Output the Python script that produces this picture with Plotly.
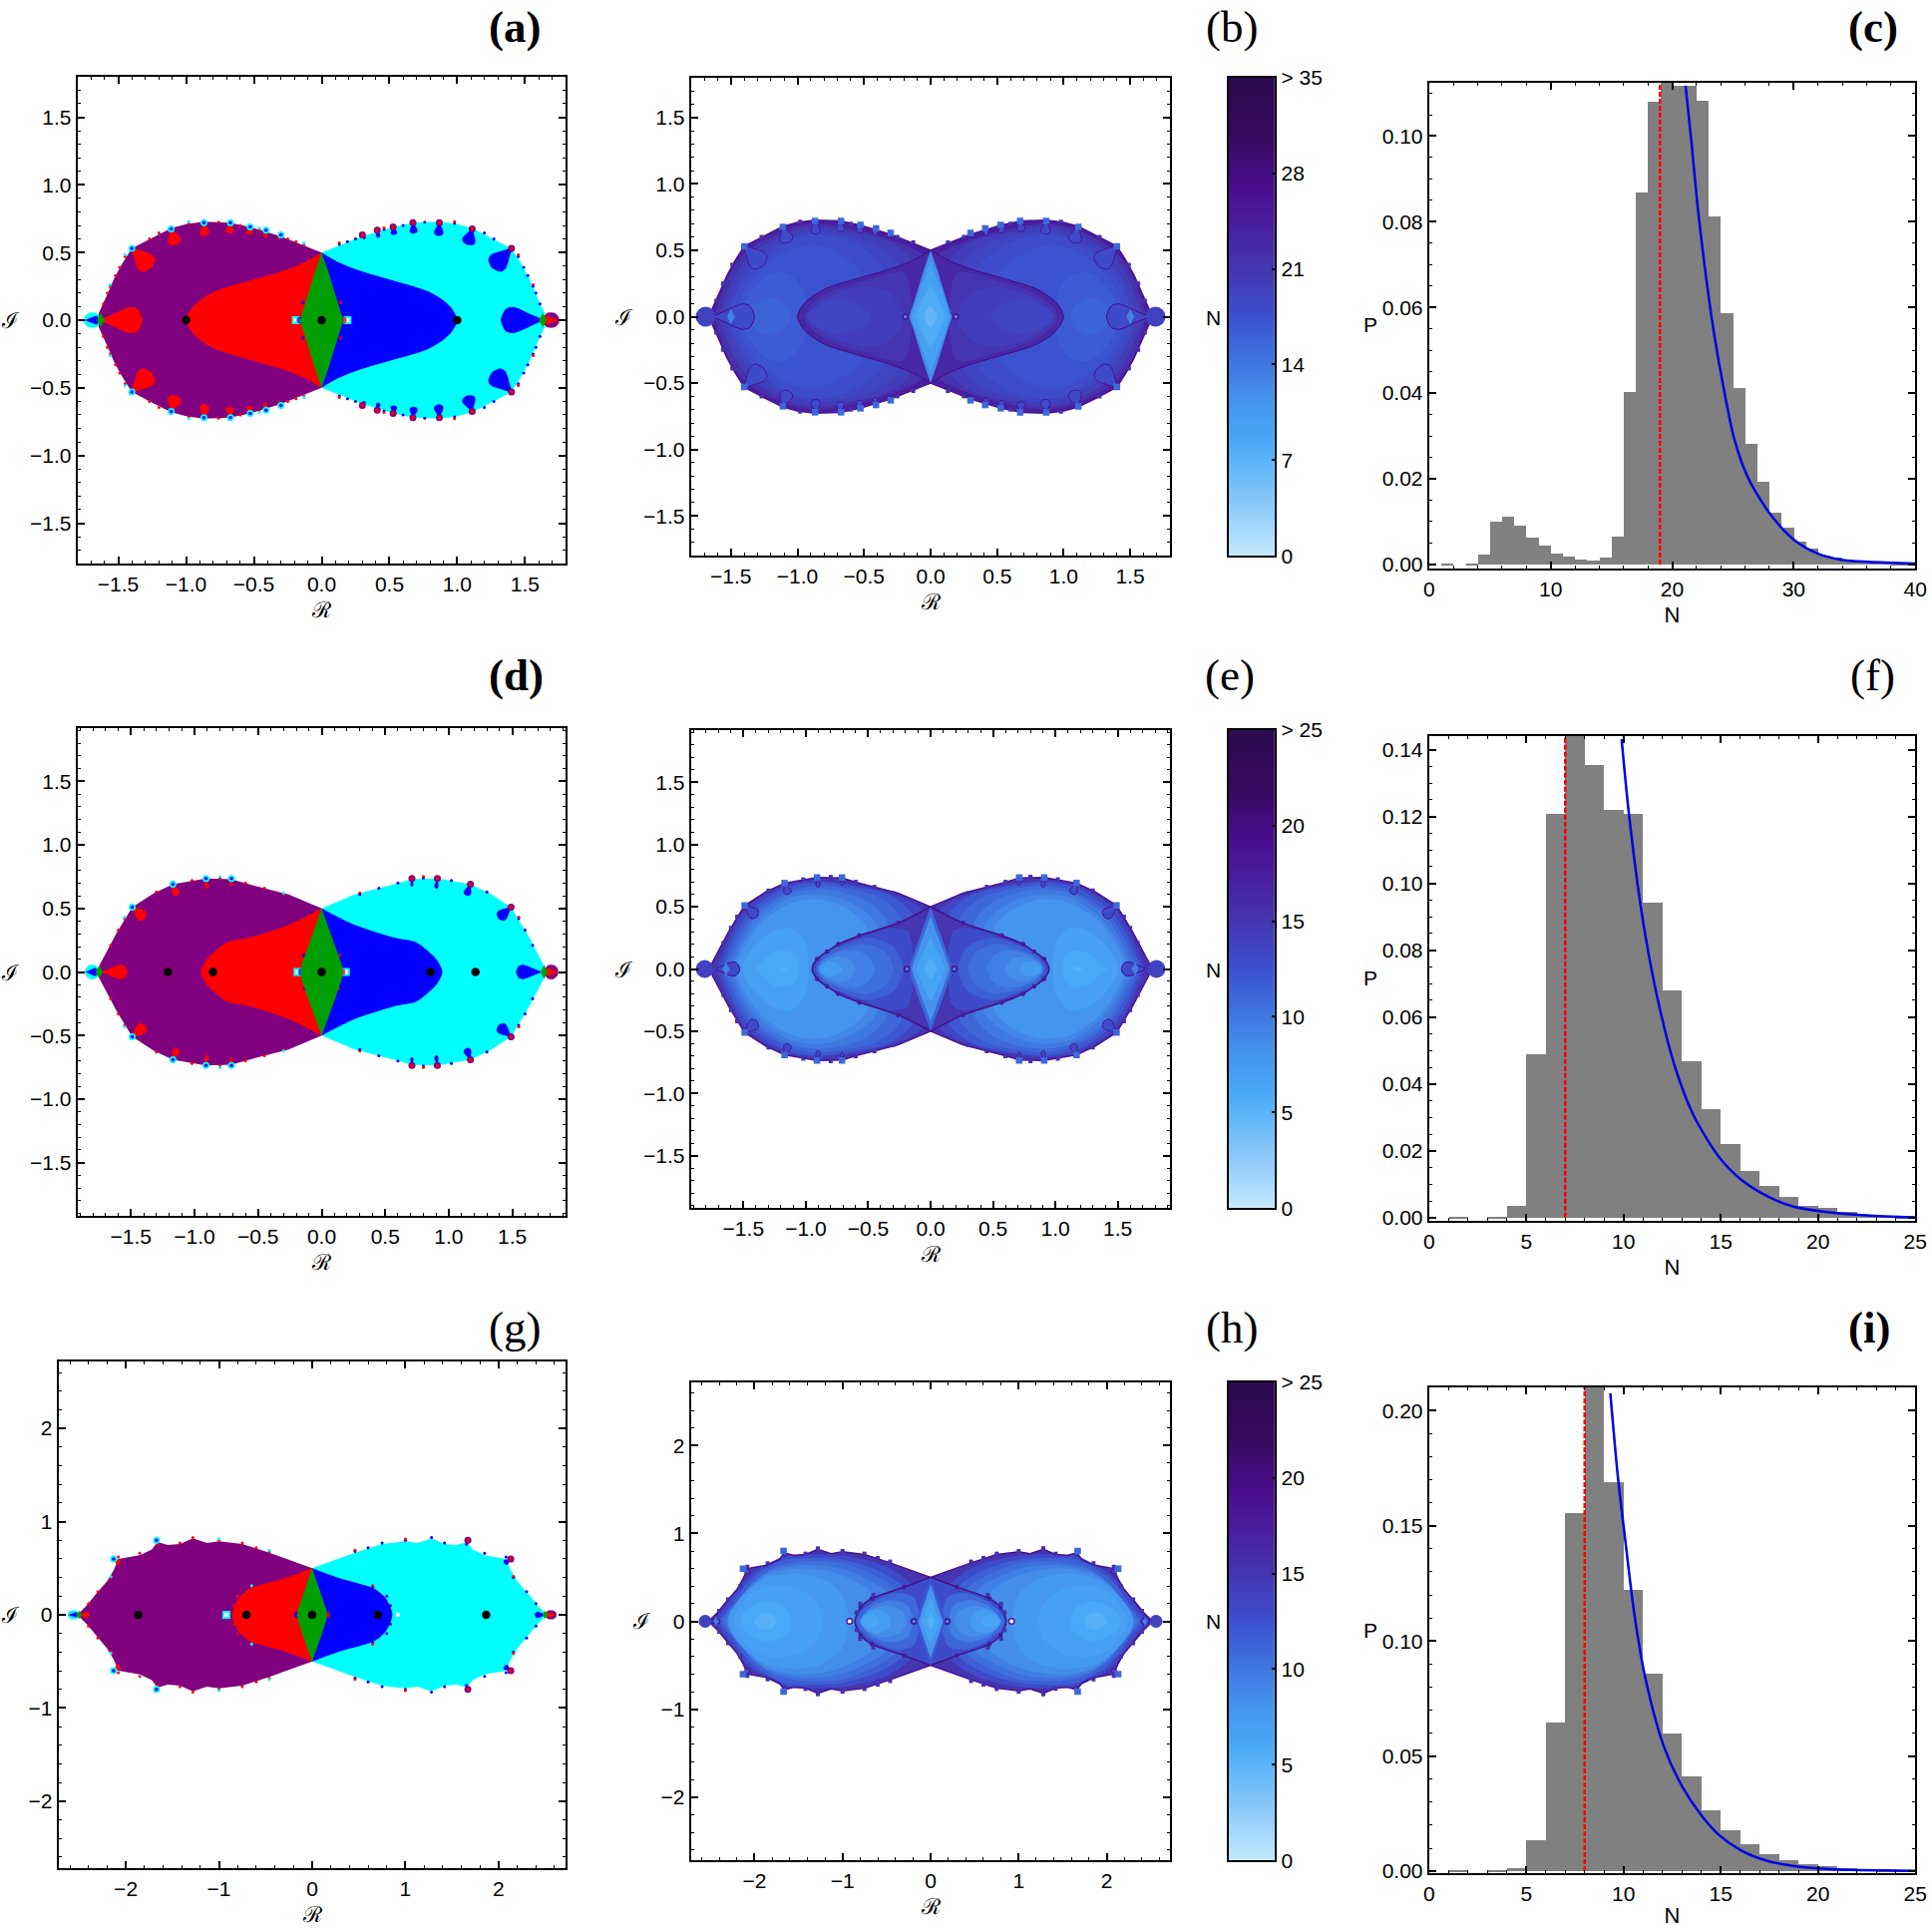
import plotly.graph_objects as go
from plotly.colors import sample_colorscale

W, H = 1937, 1933
COLORSCALE = [[0, "#C5E9FF"], [0.1, "#8FCBFA"], [0.24, "#47A9F7"], [0.32, "#4595EE"], [0.4, "#3F78E0"],
              [0.5, "#3B50D0"], [0.6, "#4535B0"], [0.77, "#4B0C8F"], [0.88, "#38095F"], [1, "#2A0A4E"]]
PURPLE, RED, BLUE, CYAN, GREEN = "#800080", "#FF0000", "#0000FF", "#00FFFF", "#009F00"

# --- basin panels (upper-right quadrant, mirrored for the others) ---
A_LOBE_X = [0, .1, .3, .53, .68, .87, 1.0, 1.11, 1.25, 1.40, 1.47, 1.53, 1.6, 1.645, 1.65]
A_LOBE_Y = [.5, .54, .62, .69, .72, .727, .71, .68, .61, .53, .42, .31, .15, .05, 0]
A_CORE_X = [0, .12, .3, .54, .78, .905, .965, 1.0]
A_CORE_Y = [.5, .43, .36, .29, .215, .14, .08, 0]
A_LENS_X = [0, .053, .126, .155, .16]
A_LENS_Y = [.5, .345, .105, .02, 0]
A_DOTS = [-1, 0, 1]
A_DROP_ROOT_X = [1.40, 1.11, .868, .673, .527, .41, .30, 1.62]
A_DROP_ROOT_Y = [.53, .675, .72, .72, .69, .665, .63, 0]
A_DROP_END_X = [1.257, 1.075, .861, .68, .535, .42, .32, 1.323]
A_DROP_END_Y = [.385, .556, .622, .64, .63, .61, .60, 0]
A_DROP_W = [.075, .05, .035, .03, .025, .016, .012, .095]
A_EDGE_X = [.13, .19, .25, .46, .6, .76, .98, 1.2, 1.27, 1.45, 1.49, 1.52, 1.56, 1.58, 1.61]
A_EDGE_Y = [.56, .58, .60, .67, .70, .725, .715, .645, .60, .47, .39, .33, .25, .2, .12]
A_TAIL_X = [1.63, 1.66, 1.72, 1.75, 1.75]
A_TAIL_Y = [0, .052, .052, .02, 0]

D_LOBE_X = [0, .26, .57, .71, .91, 1.17, 1.32, 1.49, 1.615, 1.75, 1.755]
D_LOBE_Y = [.5, .61, .69, .73, .735, .69, .62, .51, .305, .05, 0]
D_CORE_X = [0, .26, .57, .74, .83, .91, .95]
D_CORE_Y = [.5, .37, .27, .235, .17, .09, 0]
D_LENS_X = [0, .05, .11, .16, .165]
D_LENS_Y = [.5, .36, .2, .05, 0]
D_DOTS = [-1.21, -.855, 0, .855, 1.21]
D_DROP_ROOT_X = [1.49, 1.17, .91, .71, 1.72]
D_DROP_ROOT_Y = [.51, .69, .735, .735, 0]
D_DROP_END_X = [1.39, 1.138, .9, .71, 1.53]
D_DROP_END_Y = [.42, .60, .656, .67, 0]
D_DROP_W = [.045, .03, .016, .012, .055]
D_EDGE_X = [.3, .45, .6, .8, 1.02, 1.3, 1.55, 1.6, 1.66]
D_EDGE_Y = [.61, .66, .7, .74, .72, .63, .42, .33, .21]
D_TAIL_X = [1.75, 1.78, 1.83, 1.86, 1.86]
D_TAIL_Y = [0, .052, .052, .02, 0]

G_LOBE_X = [0, .46, .75, 1.0, 1.13, 1.28, 1.42, 1.55, 1.66, 1.72, 1.85, 2.08, 2.13, 2.2, 2.33, 2.42, 2.5, 2.5]
G_LOBE_Y = [.5, .665, .76, .79, .77, .82, .76, .75, .78, .7, .64, .6, .48, .36, .21, .1, .02, 0]
G_CORE_X = [0, .3, .668, .794, .86]
G_CORE_Y = [.5, .39, .28, .17, 0]
G_LENS_X = [0, .05, .1, .15, .16]
G_LENS_Y = [.5, .36, .22, .06, 0]
G_DOTS = [-1.866, -.705, 0, .705, 1.866]
G_DROP_ROOT_X = [2.13, 1.67, 2.5]
G_DROP_ROOT_Y = [.6, .8, 0]
G_DROP_END_X = [2.06, 1.65, 2.39]
G_DROP_END_Y = [.55, .74, 0]
G_DROP_W = [.03, .015, .03]
G_EDGE_X = [.46, .6, .75, 1.0, 1.28, 1.42, 1.66, 1.85, 2.08, 2.16, 2.3, 2.4, .65, .8, .84]
G_EDGE_Y = [.68, .72, .77, .8, .83, .77, .8, .66, .62, .4, .25, .12, .3, .2, .1]
G_TAIL_X = [2.5, 2.53, 2.59, 2.62, 2.62]
G_TAIL_Y = [0, .045, .045, .02, 0]

# --- iteration-count panels: (N, upper-half curve xs, ys), right lobe, mirrored to the left ---
B_NMAX = 35
B_OUTER = [
    (24, A_LOBE_X, A_LOBE_Y),
    (21.5, [.04, .06, .2, .5, .87, 1.1, 1.38, 1.52, 1.61, 1.63], [0, .46, .54, .64, .70, .65, .50, .30, .05, 0]),
    (20, [.1, .14, .32, .6, .87, 1.08, 1.36, 1.49, 1.58, 1.6], [0, .42, .57, .64, .68, .63, .47, .28, .05, 0]),
    (19, [.2, .24, .42, .66, .87, 1.06, 1.33, 1.46, 1.55, 1.58], [0, .4, .55, .62, .65, .6, .44, .25, .04, 0]),
    (18, [.3, .36, .52, .72, .9, 1.05, 1.3, 1.43, 1.52, 1.55], [0, .38, .52, .6, .62, .58, .41, .24, .04, 0]),
    (17.3, [.5, .52, .7, .88, 1.05, 1.28, 1.4, 1.47, 1.49], [0, .33, .48, .54, .51, .36, .2, .03, 0]),
    (16.5, [.93, .96, 1.06, 1.2, 1.34, 1.43, 1.46], [0, .2, .32, .33, .2, .06, 0]),
    (15.8, [1.05, 1.09, 1.2, 1.31, 1.38], [0, .09, .14, .1, 0]),
]
B_CORE = [
    (23, A_CORE_X, A_CORE_Y),
    (21, [.14, .2, .5, .75, .9, .95], [0, .33, .27, .19, .09, 0]),
    (19.8, [.2, .32, .55, .78, .92], [0, .19, .22, .14, 0]),
    (19, [.45, .55, .72, .87, .93], [0, .1, .13, .07, 0]),
]
B_LENS = [
    (12, A_LENS_X, A_LENS_Y),
    (9.5, [0, .045, .1, .135, .145], [.42, .3, .14, .03, 0]),
    (8, [0, .04, .085, .11], [.24, .17, .07, 0]),
    (6.5, [0, .03, .05], [.08, .05, 0]),
]
E_NMAX = 25
E_OUTER = [
    (15, D_LOBE_X, D_LOBE_Y),
    (13.5, [.04, .06, .2, .5, .915, 1.18, 1.47, 1.6, 1.7, 1.72], [0, .46, .56, .655, .71, .665, .49, .28, .05, 0]),
    (12, [.1, .14, .32, .6, .915, 1.17, 1.44, 1.57, 1.67, 1.69], [0, .43, .59, .66, .695, .65, .47, .28, .05, 0]),
    (11, [.2, .24, .42, .66, .915, 1.15, 1.42, 1.55, 1.65, 1.67], [0, .42, .58, .645, .67, .62, .45, .25, .04, 0]),
    (10, [.3, .36, .52, .72, .93, 1.14, 1.4, 1.52, 1.62, 1.65], [0, .4, .55, .62, .64, .6, .43, .24, .04, 0]),
    (9, [.4, .44, .62, .8, .93, 1.13, 1.37, 1.5, 1.59, 1.62], [0, .37, .52, .59, .6, .57, .4, .22, .03, 0]),
    (8, [.5, .52, .7, .9, 1.12, 1.35, 1.48, 1.56, 1.58], [0, .35, .5, .56, .53, .38, .2, .03, 0]),
    (6.9, [.98, 1.0, 1.11, 1.27, 1.42, 1.51], [0, .197, .33, .30, .17, 0]),
    (6, [1.05, 1.07, 1.14, 1.27, 1.365, 1.42], [0, .09, .145, .13, .04, 0]),
    (5.4, [1.14, 1.18, 1.22], [0, .02, 0]),
]
E_CORE_Y = [.5, .37, .27, .2, .14, .08, 0]
E_CORE = [
    (15, D_CORE_X, E_CORE_Y),
    (13, [.14, .18, .3, .6, .8, .9, .94], [0, .3, .33, .24, .16, .09, 0]),
    (11.5, [.22, .3, .5, .7, .85, .92], [0, .18, .25, .19, .12, 0]),
    (10.5, [.3, .36, .52, .7, .85, .91], [0, .13, .2, .16, .09, 0]),
    (9.5, [.45, .5, .6, .75, .87, .9], [0, .1, .15, .13, .06, 0]),
    (8.5, [.6, .65, .75, .85, .89], [0, .08, .1, .06, 0]),
    (7.5, [.71, .75, .82, .88, .89], [0, .05, .06, .03, 0]),
    (6.8, [.81, .85, .885], [0, .012, 0]),
]
E_LENS = [
    (11, D_LENS_X, D_LENS_Y),
    (8, [0, .045, .1, .14, .15], [.42, .3, .15, .04, 0]),
    (6.5, [0, .04, .09, .12], [.26, .18, .07, 0]),
    (5.5, [0, .03, .05], [.09, .05, 0]),
]
H_NMAX = 25
H_OUTER = [
    (15, G_LOBE_X, G_LOBE_Y),
    (13, [.1, .2, .5, .95, 1.3, 1.66, 2.0, 2.15, 2.32, 2.43], [0, .4, .62, .74, .76, .74, .56, .42, .18, 0]),
    (11.5, [.2, .3, .6, 1.0, 1.3, 1.66, 1.98, 2.12, 2.28, 2.39], [0, .38, .58, .7, .72, .7, .53, .39, .16, 0]),
    (10.5, [.3, .4, .7, 1.0, 1.4, 1.75, 2.0, 2.2, 2.35], [0, .36, .55, .66, .68, .62, .46, .22, 0]),
    (9.5, [.45, .5, .8, 1.1, 1.45, 1.8, 2.02, 2.2, 2.32], [0, .33, .52, .62, .64, .58, .43, .2, 0]),
    (8.5, [.6, .64, .9, 1.2, 1.55, 1.85, 2.05, 2.2, 2.3], [0, .3, .48, .58, .6, .53, .38, .2, 0]),
    (7.6, [.93, 1.0, 1.2, 1.5, 1.85, 2.1, 2.26, 2.3], [0, .3, .47, .54, .5, .33, .13, 0]),
    (6.9, [1.22, 1.3, 1.5, 1.8, 2.05, 2.2, 2.24], [0, .22, .37, .41, .31, .11, 0]),
    (6, [1.58, 1.64, 1.85, 2.08, 2.16], [0, .15, .23, .14, 0]),
    (5.2, [1.75, 1.8, 1.92, 2.0], [0, .08, .09, 0]),
]
H_CORE_X = [0, .3, .668, .794, .86]
H_CORE_Y = [.5, .39, .26, .16, 0]
H_CORE = [
    (13, H_CORE_X, H_CORE_Y),
    (11, [.12, .2, .4, .65, .78, .84], [0, .28, .32, .22, .12, 0]),
    (9.5, [.2, .26, .45, .68, .8], [0, .18, .24, .16, 0]),
    (8.5, [.27, .33, .5, .7, .79], [0, .12, .18, .12, 0]),
    (7.3, [.45, .5, .62, .75, .8], [0, .1, .14, .08, 0]),
    (6.2, [.58, .63, .71, .78], [0, .06, .07, 0]),
]
H_LENS = [
    (12, G_LENS_X, G_LENS_Y),
    (8, [0, .04, .09, .13, .14], [.42, .3, .15, .04, 0]),
    (6.5, [0, .035, .08, .11], [.28, .18, .07, 0]),
    (5.5, [0, .025, .05], [.1, .05, 0]),
]
H_NOTCH = .92
CB_TICKS_B = [0, 7, 14, 21, 28, 35]
CB_TEXT_B = ["0", "7", "14", "21", "28", "> 35"]
CB_TICKS_E = [0, 5, 10, 15, 20, 25]
CB_TEXT_E = ["0", "5", "10", "15", "20", "> 25"]

# --- histograms: bin values P for bins [k, k+1) ---
C_P = [0, .0002, 0, .0001, .00245, .0100, .0113, .0091, .0063, .0044, .0025, .0019, .0012, .0009, .0017, .0065,
       .0403, .0870, .1080, .1150, .1117, .1119, .1084, .0813, .0588, .0412, .0282, .0194, .0121, .0086, .0054,
       .0038, .0022, .0016, .0011, .0009, .0007, .0005, .0004, .0003]
C_FIT_X = [21.1, 21.6, 22.07, 22.7, 23.44, 24.2, 25.1, 26.2, 28, 30, 32, 33.9, 36.1, 40]
C_FIT_Y = [.1118, .0983, .0842, .069, .054, .0417, .0294, .0205, .012, .0058, .0025, .0011, .0006, .0002]
C_MEAN = 19
F_P = [0, .0003, 0, .0003, .0037, .0490, .1209, .1460, .1354, .1221, .1209, .0943, .068, .047, .0325, .0221, .0141,
       .0097, .0062, .0037, .0029, .0019, .001, .0007, .0005]
F_FIT_X = [9.9, 10.27, 10.94, 11.7, 12.65, 13.6, 14.94, 16.08, 17.4, 18.7, 20.6, 22.5, 25]
F_FIT_Y = [.1431, .1211, .0909, .0668, .045, .0306, .0179, .0112, .0064, .0034, .0016, .0007, .0001]
F_MEAN = 7
I_P = [0, .0003, 0, .0002, .0016, .0137, .0648, .1556, .2150, .1689, .1224, .0859, .0601, .0411, .0266, .0179, .012,
       .0076, .005, .0031, .0021, .0016, .001, .0007, .0003]
I_FIT_X = [9.32, 9.7, 10.08, 10.56, 11.13, 12.08, 13.03, 13.98, 14.9, 16.08, 17.4, 18.7, 20.6, 25]
I_FIT_Y = [.2076, .172, .1443, .1113, .0835, .054, .0366, .0245, .0158, .0089, .0045, .0023, .0009, .0002]
I_MEAN = 8

# --- helpers ---
fig = go.Figure()
layout = {}
axn = [0]
SANS = "Liberation Sans, Arial, sans-serif"
SERIF = "DejaVu Serif, serif"
TICKFONT = dict(family=SANS, size=21, color="black")
FRAME = 2.2
INSET = 1.8


def new_axes(l, r, t, b, xr, yr, xd, xm, yd, ym, xtitle=None, yfmt=None, xfmt=None, standoff=8, title_family=SERIF):
    axn[0] += 1
    n = axn[0]
    common = dict(showline=True, linecolor="black", linewidth=FRAME, mirror="ticks", ticks="inside", ticklen=7,
                  tickwidth=1.8, tickcolor="black", showgrid=False, zeroline=False, tickfont=TICKFONT, automargin=False)
    xa = dict(common, domain=[(l + INSET) / W, (r - INSET) / W], range=xr, dtick=xd, tick0=0, anchor=f"y{n}", tickformat=xfmt,
              minor=dict(dtick=xm, tick0=0, ticks="inside", ticklen=3.5, tickwidth=1.3, tickcolor="black",
                         showgrid=False))
    ya = dict(common, domain=[1 - (b - INSET) / H, 1 - (t + INSET) / H], range=yr, dtick=yd, tick0=0, anchor=f"x{n}",
              tickformat=yfmt,
              minor=dict(dtick=ym, tick0=0, ticks="inside", ticklen=3.5, tickwidth=1.3, tickcolor="black",
                         showgrid=False))
    if xtitle:
        xa["title"] = dict(text=xtitle, standoff=standoff, font=dict(family=title_family, size=22, color="black"))
    layout[f"xaxis{n}"] = xa
    layout[f"yaxis{n}"] = ya
    return f"x{n}", f"y{n}"


def closed(xs, ys, sx=1):
    """upper-half curve to a closed shape through its mirror image below the axis"""
    xs, ys = list(xs), list(ys)
    px = [sx * v for v in xs + xs[-2::-1]]
    py = ys + [-v for v in ys[-2::-1]]
    return px, py


def poly(ax, xs, ys, color, spline=False, line=None, lw=0):
    fig.add_trace(go.Scatter(x=xs, y=ys, xaxis=ax[0], yaxis=ax[1], mode="lines", fill="toself", fillcolor=color,
                             line=dict(width=lw, color=line or color, shape="spline" if spline else "linear",
                                       smoothing=0.8),
                             showlegend=False, hoverinfo="skip"))


def dots(ax, xs, ys, color, size, symbol="circle"):
    fig.add_trace(go.Scatter(x=xs, y=ys, xaxis=ax[0], yaxis=ax[1], mode="markers",
                             marker=dict(color=color, size=size, symbol=symbol, line=dict(width=0)),
                             showlegend=False, hoverinfo="skip"))


DROP_S = [0, .25, .5, .7, .88, 1, .88, .7, .5, .25, 0]
DROP_W = [.1, .42, .8, 1, .85, 0, -.85, -1, -.8, -.42, -.1]


def drop(x0, y0, x1, y1, w):
    dx, dy = x1 - x0, y1 - y0
    ln = (dx * dx + dy * dy) ** .5
    nx, ny = -dy / ln, dx / ln
    return ([x0 + s * dx + t * w * nx for s, t in zip(DROP_S, DROP_W)],
            [y0 + s * dy + t * w * ny for s, t in zip(DROP_S, DROP_W)])


def quad_pts(xs, ys, sx):
    return [sx * v for v in xs] + [sx * v for v in xs], list(ys) + [-v for v in ys]


def basin(ax, lobe, core, lens, dotx, roots, ends, widths, edge, tail, near):
    for sx, outer, inner, edge_c, tip in ((-1, PURPLE, RED, RED, CYAN), (1, CYAN, BLUE, BLUE, PURPLE)):
        poly(ax, *closed(*lobe, sx), outer)
        poly(ax, *closed(*core, sx), inner, spline=True)
        for x0, y0, x1, y1, w in zip(roots[0], roots[1], ends[0], ends[1], widths):
            px, py = drop(x0, y0, x1, y1, w)
            poly(ax, [sx * v for v in px], py, inner, spline=True)
            poly(ax, [sx * v for v in px], [-v for v in py], inner, spline=True)
        ex, ey = quad_pts(*edge, sx)
        dots(ax, ex, ey, edge_c, 3)
        dots(ax, *quad_pts(edge[0][::3], [v + .012 for v in edge[1][::3]], sx), RED if sx == 1 else CYAN, 3)
        rx, ry = quad_pts(roots[0][:-1], roots[1][:-1], sx)
        dots(ax, rx, ry, tip, 7)
        dots(ax, rx, ry, RED if sx == 1 else BLUE, 3.5)
        # tail beyond the lobe tip
        poly(ax, *closed(*tail, sx), tip, spline=True)
        tx, ty = tail
        poly(ax, *closed([tx[0], tx[1], tx[3]], [0, ty[1] * .65, 0], sx), RED if sx == 1 else BLUE)
        poly(ax, *closed([tx[0] - .03, tx[0], tx[0] + .03], [0, ty[1], 0], sx), GREEN)
        # features next to the central lens
        dots(ax, [sx * v for v in near[0]], near[1], CYAN, 8, "square")
        dots(ax, [sx * v for v in near[0]], near[1], "white", 4, "square")
        dots(ax, [sx * v for v in near[2]], near[3], RED if sx == 1 else BLUE, [7] + [4] * (len(near[2]) - 1))
    poly(ax, *closed(*lens, 1), GREEN)
    poly(ax, *closed(*lens, -1), GREEN)
    dots(ax, dotx, [0] * len(dotx), "black", 8.5)


def heat_panel(ax, nmax, outer, core, lens, lobe, corefront, roots, ends, widths, bumps, tail_x, tail_r, core_bumps,
               notch=None):
    def col(n):
        return sample_colorscale(COLORSCALE, [n / nmax])[0]
    for sx in (-1, 1):
        for n, xs, ys in outer:
            poly(ax, *closed(xs, ys, sx), col(n), spline=xs is not lobe[0])
        for n, xs, ys in core:
            poly(ax, *closed(xs, ys, sx), col(n), spline=True)
        # separatrix around the inner basin
        cx, cy = closed(*corefront, sx)
        fig.add_trace(go.Scatter(x=cx, y=cy, xaxis=ax[0], yaxis=ax[1], mode="lines",
                                 line=dict(color=col(nmax * .8), width=1.3 if core_bumps else 1, shape="spline", smoothing=.8),
                                 showlegend=False, hoverinfo="skip"))
        if core_bumps:
            bcx, bcy = quad_pts(corefront[0][1:-1], corefront[1][1:-1], sx)
            dots(ax, bcx, bcy, col(nmax * .72), 4.5)
        lx, ly = closed(*lobe, sx)
        fig.add_trace(go.Scatter(x=lx, y=ly, xaxis=ax[0], yaxis=ax[1], mode="lines",
                                 line=dict(color=col(nmax * .75), width=1.5), showlegend=False, hoverinfo="skip"))
        for x0, y0, x1, y1, w in zip(roots[0], roots[1], ends[0], ends[1], widths):
            px, py = drop(x0, y0, x1, y1, w)
            for sy in (1, -1):
                poly(ax, [sx * v for v in px], [sy * v for v in py], col(nmax * .52), spline=True,
                     line=col(nmax * .75), lw=1)
        bx, by = quad_pts(*bumps, sx)
        dots(ax, bx, by, col(nmax * .62), 4, "square")
        rx, ry = quad_pts(roots[0][:-1], roots[1][:-1], sx)
        dots(ax, rx, ry, col(nmax * .44), 6.5, "square")
        dots(ax, [sx * tail_x], [0], col(nmax * .55), tail_r)
        dots(ax, [sx * (tail_x - tail_r * .0095)], [0], col(nmax * .3), [tail_r * .55], "diamond-tall")
        dots(ax, [sx * .19], [0], col(nmax * .72), 7)
        dots(ax, [sx * .19], [0], col(nmax * .3), 3)
        if notch:
            dots(ax, [sx * notch], [0], col(nmax * .7), 7)
            dots(ax, [sx * notch], [0], "white", 4)
    for n, xs, ys in lens:
        poly(ax, *closed(xs, ys, 1), col(n))
        poly(ax, *closed(xs, ys, -1), col(n))


def colorbar(t, b, nmax, ticks, text):
    axn[0] += 1
    n = axn[0]
    layout[f"xaxis{n}"] = dict(domain=[(1230 + INSET) / W, (1280 - INSET) / W], range=[0, 1], anchor=f"y{n}",
                               showticklabels=False, ticks="", showgrid=False, zeroline=False, showline=True, mirror=True,
                               linecolor="black", linewidth=FRAME, automargin=False)
    layout[f"yaxis{n}"] = dict(domain=[1 - (b - INSET) / H, 1 - (t + INSET) / H], range=[0, nmax], anchor=f"x{n}", side="right",
                               ticks="inside", ticklen=3, tickwidth=1.5, tickcolor="black", tickvals=ticks, ticktext=text,
                               showgrid=False, zeroline=False, showline=True, mirror=True, linecolor="black",
                               linewidth=FRAME, tickfont=TICKFONT, automargin=False)
    fig.add_trace(go.Heatmap(z=[[0, 0], [nmax, nmax]], x=[0, 1], y=[0, nmax], xaxis=f"x{n}", yaxis=f"y{n}",
                             colorscale=COLORSCALE, zmin=0, zmax=nmax, zsmooth="best", showscale=False,
                             hoverinfo="skip"))


def hist(ax, p, fitx, fity, mean, ytop):
    fig.add_trace(go.Bar(x=[k + .5 for k in range(len(p))], y=p, width=1, xaxis=ax[0], yaxis=ax[1],
                         marker=dict(color="#808080", line=dict(width=0)), showlegend=False, hoverinfo="skip"))
    fig.add_trace(go.Scatter(x=fitx, y=fity, xaxis=ax[0], yaxis=ax[1], mode="lines",
                             line=dict(color="#0000E6", width=2.5, shape="spline", smoothing=.8), showlegend=False,
                             hoverinfo="skip"))
    fig.add_trace(go.Scatter(x=[mean, mean], y=[0, ytop], xaxis=ax[0], yaxis=ax[1], mode="lines",
                             line=dict(color="#FF0000", width=2.5, dash="5px,2px"), showlegend=False, hoverinfo="skip"))


notes = []


def note(x, y, s, size=21, family=SANS, bold=False):
    notes.append(dict(x=x / W, y=1 - y / H, xref="paper", yref="paper", text=f"<b>{s}</b>" if bold else s, showarrow=False,
                      xanchor="center", yanchor="middle", font=dict(family=family, size=size, color="black")))


SCRIPT_R, SCRIPT_I = "\u211b", "\u2110"

# (a)
ax = new_axes(76, 569, 75, 567, [-1.8, 1.8], [-1.8, 1.8], .5, .1, .5, .1, SCRIPT_R, ".1f", ".1f")
basin(ax, (A_LOBE_X, A_LOBE_Y), (A_CORE_X, A_CORE_Y), (A_LENS_X, A_LENS_Y), A_DOTS,
      (A_DROP_ROOT_X, A_DROP_ROOT_Y), (A_DROP_END_X, A_DROP_END_Y), A_DROP_W, (A_EDGE_X, A_EDGE_Y),
      (A_TAIL_X, A_TAIL_Y), ([.19], [0], [.16, .14, .14], [0, .13, -.13]))
note(10, 321, SCRIPT_I, size=22, family=SERIF)
# (b)
ax = new_axes(691, 1175, 76, 559, [-1.8, 1.8], [-1.8, 1.8], .5, .1, .5, .1, SCRIPT_R, ".1f", ".1f")
heat_panel(ax, B_NMAX, B_OUTER, B_CORE, B_LENS, (A_LOBE_X, A_LOBE_Y), (A_CORE_X, A_CORE_Y),
           (A_DROP_ROOT_X, A_DROP_ROOT_Y), (A_DROP_END_X, A_DROP_END_Y), A_DROP_W, (A_EDGE_X[::2], A_EDGE_Y[::2]), 1.69, 20,
           False)
colorbar(76, 559, B_NMAX, CB_TICKS_B, CB_TEXT_B)
note(625, 318, SCRIPT_I, size=22, family=SERIF)
note(1216, 318, "N")
# (c)
ax = new_axes(1431, 1922, 81, 572, [0, 40], [-.001, .1125], 10, 2, .02, .005, "N", ".2f", "d", title_family=SANS)
hist(ax, C_P, C_FIT_X, C_FIT_Y, C_MEAN, .1125)
note(1374, 325, "P")
# (d)
ax = new_axes(76, 569, 728, 1221, [-1.92, 1.92], [-1.92, 1.92], .5, .1, .5, .1, SCRIPT_R, ".1f", ".1f")
basin(ax, (D_LOBE_X, D_LOBE_Y), (D_CORE_X, D_CORE_Y), (D_LENS_X, D_LENS_Y), D_DOTS,
      (D_DROP_ROOT_X, D_DROP_ROOT_Y), (D_DROP_END_X, D_DROP_END_Y), D_DROP_W, (D_EDGE_X, D_EDGE_Y),
      (D_TAIL_X, D_TAIL_Y), ([.19], [0], [.16, .14, .13], [0, .13, -.13]))
note(10, 975, SCRIPT_I, size=22, family=SERIF)
# (e)
ax = new_axes(691, 1175, 730, 1213, [-1.92, 1.92], [-1.92, 1.92], .5, .1, .5, .1, SCRIPT_R, ".1f", ".1f")
heat_panel(ax, E_NMAX, E_OUTER, E_CORE, E_LENS, (D_LOBE_X, D_LOBE_Y), (D_CORE_X, E_CORE_Y),
           (D_DROP_ROOT_X, D_DROP_ROOT_Y), (D_DROP_END_X, D_DROP_END_Y), D_DROP_W, (D_EDGE_X, D_EDGE_Y), 1.81, 18, True)
colorbar(730, 1213, E_NMAX, CB_TICKS_E, CB_TEXT_E)
note(625, 972, SCRIPT_I, size=22, family=SERIF)
note(1216, 972, "N")
# (f)
ax = new_axes(1431, 1922, 736, 1226, [0, 25], [-.001, .1441], 5, 1, .02, .005, "N", ".2f", "d", title_family=SANS)
hist(ax, F_P, F_FIT_X, F_FIT_Y, F_MEAN, .1441)
note(1374, 980, "P")
# (g)
ax = new_axes(57, 569, 1363, 1875, [-2.72, 2.72], [-2.72, 2.72], 1, .2, 1, .2, SCRIPT_R, "d", "d")
basin(ax, (G_LOBE_X, G_LOBE_Y), (G_CORE_X, G_CORE_Y), (G_LENS_X, G_LENS_Y), G_DOTS,
      (G_DROP_ROOT_X, G_DROP_ROOT_Y), (G_DROP_END_X, G_DROP_END_Y), G_DROP_W, (G_EDGE_X, G_EDGE_Y),
      (G_TAIL_X, G_TAIL_Y), ([H_NOTCH], [0], [.16], [0]))
note(10, 1619, SCRIPT_I, size=22, family=SERIF)
# (h)
ax = new_axes(691, 1175, 1384, 1867, [-2.72, 2.72], [-2.72, 2.72], 1, .2, 1, .2, SCRIPT_R, "d", "d")
heat_panel(ax, H_NMAX, H_OUTER, H_CORE, H_LENS, (G_LOBE_X, G_LOBE_Y), (H_CORE_X, H_CORE_Y),
           (G_DROP_ROOT_X, G_DROP_ROOT_Y), (G_DROP_END_X, G_DROP_END_Y), G_DROP_W, (G_EDGE_X, G_EDGE_Y), 2.56, 13, True,
           H_NOTCH)
colorbar(1384, 1867, H_NMAX, CB_TICKS_E, CB_TEXT_E)
note(643, 1625, SCRIPT_I, size=22, family=SERIF)
note(1216, 1625, "N")
# (i)
ax = new_axes(1431, 1922, 1389, 1880, [0, 25], [-.0009, .2102], 5, 1, .05, .01, "N", ".2f", "d", title_family=SANS)
hist(ax, I_P, I_FIT_X, I_FIT_Y, I_MEAN, .2102)
note(1374, 1634, "P")

# panel letters
LABELS = ["(a)", "(b)", "(c)", "(d)", "(e)", "(f)", "(g)", "(h)", "(i)"]
LABEL_X = [516, 1235, 1878, 517, 1233, 1877, 516, 1235, 1874]
LABEL_Y = [27, 27, 27, 677, 677, 677, 1331, 1331, 1331]
LABEL_BOLD = [True, False, True, True, False, False, False, False, True]
for s, x, y, bd in zip(LABELS, LABEL_X, LABEL_Y, LABEL_BOLD):
    note(x, y, s, size=45, family="Liberation Serif, serif", bold=bd)

fig.update_layout(width=W, height=H, margin=dict(l=0, r=0, t=0, b=0, autoexpand=False), paper_bgcolor="white",
                  plot_bgcolor="white", barmode="overlay", bargap=0, annotations=notes, showlegend=False, **layout)
fig.write_html("out.html", post_script="document.body.style.margin='0';", config={"displayModeBar": False})
